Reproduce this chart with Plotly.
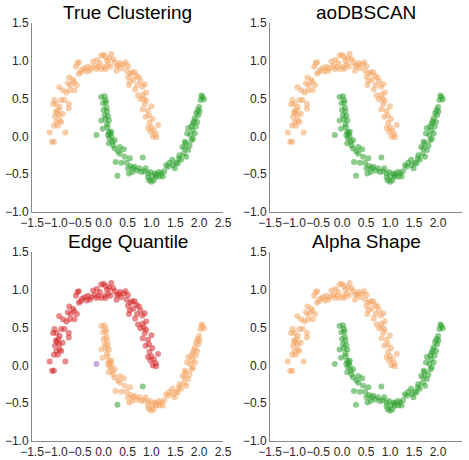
import plotly.graph_objects as go

# ---- data: upper moon ----
upper_x = [-1.13, -1.08, -1.04, -0.80, -1.04, -0.96, -0.99, -0.92, -0.89, -1.02, -0.98, -0.93, -0.95, -1.00,
           -0.92, -1.06, -0.99, -0.89, -1.03, -0.73, -0.73, -0.82, -0.93, -0.85, -0.78, -0.71, -0.61, -0.69,
           -0.75, -0.72, -0.64, -0.56, -0.52, -0.48, -0.58, -0.52, -0.55, -0.45, -0.36, -0.29, -0.33, -0.26,
           -0.19, -0.22, -0.14, -0.11, -0.15, -0.08, -0.05, 0.00, 0.04, 0.07, 0.02, 0.04, -0.05, 0.10, 0.16,
           0.20, 0.14, 0.23, 0.28, 0.27, 0.34, 0.37, 0.42, 0.46, 0.51, 0.48, 0.56, 0.60, 0.51, 0.55, 0.53,
           0.62, 0.65, 0.69, 0.74, 0.77, 0.70, 0.81, 0.86, 0.89, 0.82, 0.72, 0.77, 0.84, 0.89, 0.86, 1.00,
           0.82, 0.93, 0.95, 0.88, 1.02, 0.96, 1.14, 1.00, 1.05, 0.98, 1.09, 1.03, 1.10, 0.93, -0.40, 0.32,
           -0.62, -0.86, 0.12, 0.66]
upper_y = [0.05, -0.07, -0.07, 0.05, 0.14, 0.14, 0.19, 0.21, 0.19, 0.26, 0.31, 0.28, 0.35, 0.33,
           0.39, 0.43, 0.43, 0.48, 0.48, 0.37, 0.43, 0.48, 0.65, 0.61, 0.58, 0.61, 0.61, 0.68,
           0.70, 0.78, 0.75, 0.68, 0.83, 0.85, 0.92, 0.98, 0.97, 0.88, 0.86, 0.87, 0.92, 0.90,
           0.93, 0.99, 1.01, 0.92, 0.89, 0.97, 1.07, 1.08, 1.05, 1.00, 0.92, 0.89, 0.89, 0.95, 1.09,
           1.02, 0.92, 0.98, 0.93, 0.87, 0.97, 0.90, 0.95, 0.98, 0.93, 0.87, 0.83, 0.85, 0.79, 0.73, 0.68,
           0.75, 0.85, 0.80, 0.78, 0.73, 0.68, 0.66, 0.69, 0.58, 0.55, 0.54, 0.49, 0.50, 0.47, 0.43, 0.40,
           0.36, 0.34, 0.28, 0.26, 0.23, 0.18, 0.15, 0.12, 0.08, 0.06, 0.03, 0.00, -0.01, 0.11, 0.90, 0.94,
           0.72, 0.30, 1.03, 0.62]

# ---- data: lower moon ----
lower_x = [-0.05, 0.02, 0.04, -0.01, 0.06, 0.00, 0.07, 0.02, 0.09, 0.04, -0.05, 0.11, 0.07, 0.05, 0.08,
           -0.02, 0.11, 0.14, 0.16, 0.09, 0.16, 0.12, 0.18, 0.20, 0.11, 0.23, 0.23, 0.34, 0.30, 0.34,
           0.42, 0.44, 0.25, 0.37, 0.48, 0.55, 0.51, 0.56, 0.62, 0.60, 0.65, 0.53, 0.70, 0.75, 0.79,
           0.88, 0.93, 0.93, 0.98, 1.02, 0.95, 1.00, 1.05, 1.07, 1.10, 1.16, 1.21, 1.24, 1.17, 1.27,
           1.31, 1.38, 1.44, 1.45, 1.49, 1.52, 1.58, 1.59, 1.62, 1.55, 1.68, 1.70, 1.73, 1.77, 1.72,
           1.80, 1.75, 1.84, 1.82, 1.87, 1.91, 1.86, 1.93, 1.87, 1.96, 1.91, 1.98, 1.94, 2.01, 2.00,
           1.97, 2.03, 2.07, 2.10, 2.05, 1.84, 1.77, 1.70, 1.65, 1.35, 1.10, 0.85, 1.89,
           -0.15, 0.82, 0.29]
lower_y = [0.52, 0.53, 0.48, 0.44, 0.38, 0.35, 0.33, 0.28, 0.27, 0.23, 0.21, 0.21, 0.16, 0.45, 0.12,
           0.10, 0.06, 0.04, 0.00, 0.02, 0.06, -0.02, -0.07, -0.12, -0.09, -0.16, -0.05, -0.14, -0.20, -0.23,
           -0.17, -0.27, -0.34, -0.35, -0.35, -0.29, -0.42, -0.39, -0.42, -0.47, -0.40, -0.49, -0.45, -0.42, -0.47,
           -0.42, -0.49, -0.54, -0.47, -0.53, -0.58, -0.60, -0.58, -0.49, -0.53, -0.47, -0.49, -0.53, -0.53, -0.46,
           -0.38, -0.35, -0.31, -0.38, -0.42, -0.35, -0.29, -0.25, -0.31, -0.36, -0.23, -0.16, -0.27, -0.18, -0.09,
           -0.12, 0.04, -0.05, 0.02, -0.03, 0.04, 0.08, 0.13, 0.17, 0.19, 0.24, 0.28, 0.31, 0.33, 0.39,
           0.35, 0.48, 0.52, 0.49, 0.54, 0.13, 0.11, -0.07, -0.14, -0.40, -0.50, -0.46, 0.20,
           0.02, -0.28, -0.52]

# ---- labels per panel ----
n_up = len(upper_x)
n_lo = len(lower_x)
true_labels = [0] * n_up + [1] * n_lo
aodbscan_labels = [0] * n_up + [1] * n_lo
alpha_labels = [0] * n_up + [1] * n_lo
edge_labels = [2] * n_up + [0] * (n_lo - 3) + [3, 1, 1]

titles = ["True Clustering", "aoDBSCAN", "Edge Quantile", "Alpha Shape"]
panel_labels = [true_labels, aodbscan_labels, edge_labels, alpha_labels]
palette = {0: "#f4a460", 1: "#2ca02c", 2: "#d62728", 3: "#9467bd"}

xs = upper_x + lower_x
ys = upper_y + lower_y

W, H = 469, 460
# pixel boxes (left, right, top, bottom)
boxes = [(32, 223, 23, 212), (270, 462, 23, 212), (32, 223, 252, 441), (270, 462, 252, 441)]

fig = go.Figure()
layout = dict(width=W, height=H, margin=dict(l=0, r=0, t=0, b=0),
              template="none", paper_bgcolor="white", plot_bgcolor="white",
              showlegend=False, annotations=[])

for i, (title, labels, box) in enumerate(zip(titles, panel_labels, boxes)):
    xa = "x" if i == 0 else f"x{i+1}"
    ya = "y" if i == 0 else f"y{i+1}"
    for lab in sorted(set(labels)):
        px = [x for x, l in zip(xs, labels) if l == lab]
        py = [y for y, l in zip(ys, labels) if l == lab]
        fig.add_trace(go.Scatter(x=px, y=py, mode="markers", xaxis=xa, yaxis=ya,
                                 marker=dict(color=palette[lab], size=6, opacity=0.55,
                                             line=dict(width=0)),
                                 hoverinfo="skip"))
    l, r, t, b = box
    axis_common = dict(showgrid=False, zeroline=False, showline=True, linecolor="#888888",
                       linewidth=1, ticks="", dtick=0.5, tickangle=0,
                       tickfont=dict(family="Liberation Sans, Arial", size=12, color="#262626"),
                       automargin=False, mirror=False)
    layout["xaxis" if i == 0 else f"xaxis{i+1}"] = dict(
        axis_common, domain=[l / W, r / W], range=[-1.5, 2.5], tick0=-1.5,
        anchor=ya, tickformat=".1f")
    layout["yaxis" if i == 0 else f"yaxis{i+1}"] = dict(
        axis_common, domain=[1 - b / H, 1 - t / H], range=[-1.0, 1.5], tick0=-1.0,
        anchor=xa, tickformat=".1f")
    layout["annotations"].append(dict(
        text=title, x=(l + r) / 2 / W, y=1 - (t - 10) / H, xref="paper", yref="paper",
        xanchor="center", yanchor="middle", showarrow=False,
        font=dict(family="Liberation Sans, Arial", size=19, color="black")))

fig.update_layout(**layout)
fig.write_html("out.html")
